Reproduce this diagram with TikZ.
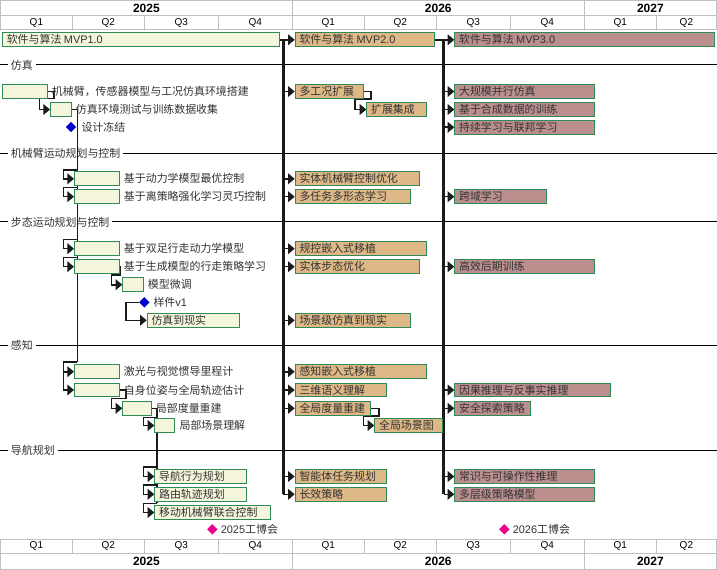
\documentclass[tikz,border=0pt]{standalone}
\usepackage{fontspec}
\setmainfont{Liberation Sans}
\newfontfamily\cjk{Noto Sans CJK SC}
\usetikzlibrary{arrows.meta,shapes.geometric}
\pgfdeclarelayer{bg}
\pgfdeclarelayer{conn}
\pgfsetlayers{bg,conn,main}
\definecolor{bgreen}{HTML}{2E8B57}
\definecolor{cbeige}{HTML}{F5F5DC}
\definecolor{ctan}{HTML}{DEB887}
\definecolor{crosy}{HTML}{BC8F8F}
\definecolor{gridc}{HTML}{C0C0C0}
\definecolor{ink}{HTML}{333333}
\definecolor{lnk}{HTML}{1A1A1A}
\newcommand\lat[1]{{\normalfont #1}}
\tikzset{
  box/.style={draw=bgreen, line width=0.75pt, rectangle, inner sep=0pt, minimum height=10.2pt, anchor=west},
  txt/.style={font=\cjk\fontsize{8.2}{10}\selectfont, text=ink, inner sep=0pt},
  gridl/.style={draw=gridc, line width=0.75pt},
  qt/.style={font=\fontsize{7.5}{9}\selectfont, text=black, inner sep=0pt},
  yr/.style={font=\bfseries\fontsize{9}{10}\selectfont, text=black, inner sep=0pt},
  sec/.style={txt, fill=white, inner sep=2.25pt, anchor=west},
  secline/.style={draw=black, line width=0.75pt},
  con/.style={draw=lnk, line width=1.2pt},
  arr/.style={con, -{Triangle[length=5pt,width=8pt]}},
  spine/.style={draw=lnk, line width=2.5pt},
  ms/.style={diamond, minimum width=8pt, minimum height=8pt, inner sep=0pt},
}
\newcommand\bin[6]{\node[box,fill=#5,minimum width={(#3-#2)*0.75pt}] (#1) at (#2,#4) {};
  \node[txt,anchor=west] (#1t) at ([xshift=3.4pt]#1.west) {#6};}
\newcommand\bout[6]{\node[box,fill=#5,minimum width={(#3-#2)*0.75pt}] (#1) at (#2,#4) {};
  \node[txt,anchor=west] (#1t) at ([xshift=3pt]#1.east) {#6};}
\begin{document}
\begin{tikzpicture}[x=0.75pt,y=-0.75pt]
\useasboundingbox (0,0) rectangle (717,570);
% header grid
\begin{pgfonlayer}{bg}
\fill[white] (0,0) rectangle (717,570);
\foreach \a/\b/\q [count=\i] in {0.5/72.3/Q1,72.3/144.3/Q2,144.3/218.3/Q3,218.3/292.3/Q4,292.3/364.3/Q1,364.3/436.3/Q2,436.3/510.3/Q3,510.3/584.3/Q4,584.3/656.3/Q1,656.3/716.5/Q2}{
  \draw[gridl] (\a,16) rectangle (\b,30);
  \node[qt] (qt\i) at ({(\a+\b)/2},23) {\q};
  \draw[gridl] (\a,539.3) rectangle (\b,553.3);
  \node[qt] (qb\i) at ({(\a+\b)/2},546.3) {\q};
}
\foreach \a/\b/\q [count=\i] in {0.5/292.3/2025,292.3/584.3/2026,584.3/716.5/2027}{
  \draw[gridl] (\a,0.5) rectangle (\b,16);
  \node[yr] (yt\i) at ({(\a+\b)/2},8.3) {\q};
  \draw[gridl] (\a,553.3) rectangle (\b,569.5);
  \node[yr] (yb\i) at ({(\a+\b)/2},561.4) {\q};
}
% section headers
\foreach \y/\t [count=\i] in {65/仿真,153.3/机械臂运动规划与控制,222/步态运动规划与控制,345/感知,450/导航规划}{
  \draw[secline] (0,\y) -- (717,\y);
  \node[sec] (sec\i) at (7.7,\y) {\t};
}
\end{pgfonlayer}

% MVP row
\bin{mvp1}{2}{278.7}{39.8}{cbeige}{软件与算法 \lat{MVP1.0}}
\bin{mvp2}{294.7}{434.3}{39.8}{ctan}{软件与算法 \lat{MVP2.0}}
\bin{mvp3}{454.3}{714.3}{39.8}{crosy}{软件与算法 \lat{MVP3.0}}

% simulation
\bout{sim1}{2}{46.7}{91.5}{cbeige}{机械臂，传感器模型与工况仿真环境搭建}
\bout{sim2}{50}{70.7}{109.5}{cbeige}{仿真环境测试与训练数据收集}
\node[ms,fill=blue!80!black] (ms1) at (71,127) {};
\node[txt,anchor=west] (ms1t) at ([xshift=3.5pt]ms1.east) {设计冻结};
\bin{sim3}{294.7}{362.7}{91.5}{ctan}{多工况扩展}
\bin{sim4}{366.3}{426.3}{109.5}{ctan}{扩展集成}
\bin{sim5}{454.3}{594.3}{91.5}{crosy}{大规模并行仿真}
\bin{sim6}{454.3}{594.3}{109.5}{crosy}{基于合成数据的训练}
\bin{sim7}{454.3}{594.3}{127.3}{crosy}{持续学习与联邦学习}

% arm
\bout{arm1}{74}{118.7}{178.8}{cbeige}{基于动力学模型最优控制}
\bout{arm2}{74}{118.7}{196.7}{cbeige}{基于离策略强化学习灵巧控制}
\bin{arm3}{294.7}{418.7}{178.8}{ctan}{实体机械臂控制优化}
\bin{arm4}{294.7}{410.3}{196.7}{ctan}{多任务多形态学习}
\bin{arm5}{454.3}{546.3}{196.7}{crosy}{跨域学习}

% gait
\bout{gait1}{74}{118.7}{248.7}{cbeige}{基于双足行走动力学模型}
\bout{gait2}{74}{118.7}{266.7}{cbeige}{基于生成模型的行走策略学习}
\bout{gait3}{122.3}{142.7}{284.7}{cbeige}{模型微调}
\node[ms,fill=blue!80!black] (ms2) at (144.3,302.3) {};
\node[txt,anchor=west] (ms2t) at ([xshift=2.5pt]ms2.east) {样件\lat{v1}};
\bin{gait4}{146.7}{238.7}{320.3}{cbeige}{仿真到现实}
\bin{gait5}{294.7}{426.3}{248.7}{ctan}{规控嵌入式移植}
\bin{gait6}{294.7}{418.7}{266.7}{ctan}{实体步态优化}
\bin{gait7}{294.7}{410.3}{320.3}{ctan}{场景级仿真到现实}
\bin{gait8}{454.3}{594.3}{266.7}{crosy}{高效后期训练}

% perception
\bout{per1}{74}{118.7}{371.7}{cbeige}{激光与视觉惯导里程计}
\bout{per2}{74}{118.7}{390}{cbeige}{自身位姿与全局轨迹估计}
\bout{per3}{122.3}{150.7}{408.3}{cbeige}{局部度量重建}
\bout{per4}{154.3}{174.3}{425.5}{cbeige}{局部场景理解}
\bin{per5}{294.7}{426.3}{371.7}{ctan}{感知嵌入式移植}
\bin{per6}{294.7}{386.3}{390}{ctan}{三维语义理解}
\bin{per7}{294.7}{370.3}{408.3}{ctan}{全局度量重建}
\bin{per8}{374.3}{442.3}{425.5}{ctan}{全局场景图}
\bin{per9}{454.3}{610.3}{390}{crosy}{因果推理与反事实推理}
\bin{per10}{454.3}{530.3}{408.3}{crosy}{安全探索策略}

% navigation
\bin{nav1}{154.3}{246.3}{476.5}{cbeige}{导航行为规划}
\bin{nav2}{154.3}{246.3}{494.3}{cbeige}{路由轨迹规划}
\bin{nav3}{154.3}{270.3}{512.5}{cbeige}{移动机械臂联合控制}
\bin{nav4}{294.7}{386.3}{476.5}{ctan}{智能体任务规划}
\bin{nav5}{294.7}{386.3}{494.3}{ctan}{长效策略}
\bin{nav6}{454.3}{594.3}{476.5}{crosy}{常识与可操作性推理}
\bin{nav7}{454.3}{594.3}{494.3}{crosy}{多层级策略模型}

% fairs
\node[ms,fill=magenta] (ms3) at (212.3,529.3) {};
\node[txt,anchor=west] (ms3t) at ([xshift=2pt]ms3.east) {\lat{2025}工博会};
\node[ms,fill=magenta] (ms4) at (504.3,529.3) {};
\node[txt,anchor=west] (ms4t) at ([xshift=2pt]ms4.east) {\lat{2026}工博会};

% connectors
\begin{pgfonlayer}{conn}
\draw[arr] (mvp1.east) -- (mvp2.west);
\draw[arr] (mvp2.east) -- (mvp3.west);
\coordinate (s1) at (283.3,0);
\coordinate (s2) at (443.7,0);
\draw[spine] (s1 |- mvp1.east) -- (s1 |- nav5.west);
\draw[spine] (s2 |- mvp2.east) -- (s2 |- nav7.west);
\foreach \n in {sim3,arm3,arm4,gait5,gait6,gait7,per5,per6,per7,nav4,nav5}
  \draw[arr] (s1 |- \n.west) -- (\n.west);
\foreach \n in {sim5,sim6,sim7,arm5,gait8,per9,per10,nav6,nav7}
  \draw[arr] (s2 |- \n.west) -- (\n.west);
% sim chain
\draw[arr] (sim1.east) -- ++(6.3,0) -- ++(0,7.2) -| ([xshift=-8pt]sim2.west) -- (sim2.west);
\coordinate (v1) at (77.3,0);
\coordinate (v1e) at (77.3,361.7);
\draw[con] (sim2.east) -| (v1e);
\foreach \n in {arm1,arm2,gait1,gait2}
  \draw[arr] (v1 |- \n.west) ++(0,-9) -| ([xshift=-8pt]\n.west) -- (\n.west);
\draw[arr] (v1e) -| ([xshift=-8pt]per2.west) -- (per2.west);
\draw[arr] ([xshift=-8pt]per1.west) -- (per1.west);
% gait chain
\draw[arr] (gait2.east) -- ++(0.7,0) -- ++(0,8.3) -| ([xshift=-8pt]gait3.west) -- (gait3.west);
\draw[arr] (ms2.west) -| ([xshift=-15.75pt]gait4.west) -- (gait4.west);
% perception chain
\draw[arr] (per2.east) -- ++(6.3,0) -- ++(0,8.3) -| ([xshift=-8pt]per3.west) -- (per3.west);
\coordinate (v2) at (156.7,0);
\coordinate (v2e) at (156.7,503.3);
\draw[con] (per3.east) -| (v2e);
\draw[arr] (v2 |- per4.west) ++(0,-8.2) -| ([xshift=-8.25pt]per4.west) -- (per4.west);
\foreach \n in {nav1,nav2}
  \draw[arr] (v2 |- \n.west) ++(0,-9.3) -| ([xshift=-8.25pt]\n.west) -- (\n.west);
\draw[arr] (v2e) -| ([xshift=-8.25pt]nav3.west) -- (nav3.west);
% right side chains
\draw[arr] (sim3.east) -- ++(7,0) -- ++(0,7.5) -| ([xshift=-8.5pt]sim4.west) -- (sim4.west);
\draw[arr] (per7.east) -- ++(7.4,0) -- ++(0,7.7) -| ([xshift=-8pt]per8.west) -- (per8.west);
\end{pgfonlayer}
\end{tikzpicture}
\end{document}
